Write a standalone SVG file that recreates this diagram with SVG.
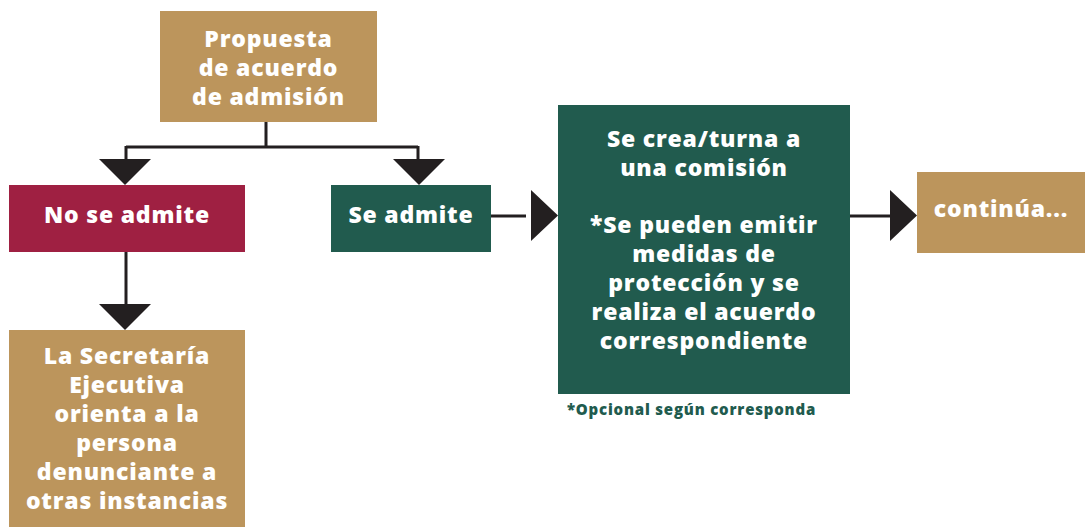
<svg xmlns="http://www.w3.org/2000/svg" width="1085" height="527" viewBox="0 0 1085 527">
<style>
.tan{fill:#BC955C}
.red{fill:#9F2042}
.grn{fill:#215B4E}
.t{font-family:"Open Sans","Liberation Sans",sans-serif;font-weight:800;font-size:23px;letter-spacing:0.8px;fill:#fff;text-anchor:middle}
.ln{stroke:#231F20;stroke-width:3;fill:none}
.ah{fill:#231F20}
.note{font-family:"Open Sans","Liberation Sans",sans-serif;font-weight:800;font-size:15px;letter-spacing:0.8px;fill:#215B4E}
</style>
<rect width="1085" height="527" fill="#fff"/>
<g id="connectors">
<path class="ln" d="M266 122V147M126 147H418M126 146V160M418 146V160"/>
<polygon class="ah" points="99,159 151,159 125,185"/>
<polygon class="ah" points="393,159 445,159 419,185"/>
<path class="ln" d="M126 252V305"/>
<polygon class="ah" points="99,304 151,304 125,330"/>
<path class="ln" d="M491 216H526"/>
<polygon class="ah" points="531,190 531,241 558,215.5"/>
<path class="ln" d="M850 216H891"/>
<polygon class="ah" points="890,190 890,241 917,215.5"/>
</g>
<g id="n-propuesta">
<rect class="tan" x="160" y="11" width="217" height="111"/>
<text class="t" x="268.5" y="47">Propuesta</text>
<text class="t" x="268.5" y="76">de acuerdo</text>
<text class="t" x="268.5" y="105">de admisión</text>
</g>
<g id="n-no">
<rect class="red" x="9" y="185" width="236" height="67"/>
<text class="t" x="127" y="223">No se admite</text>
</g>
<g id="n-si">
<rect class="grn" x="331" y="185" width="160" height="67"/>
<text class="t" x="411" y="223">Se admite</text>
</g>
<g id="n-secretaria">
<rect class="tan" x="9" y="330" width="236" height="197"/>
<text class="t" x="127" y="364">La Secretaría</text>
<text class="t" x="127" y="393">Ejecutiva</text>
<text class="t" x="127" y="422">orienta a la</text>
<text class="t" x="127" y="451">persona</text>
<text class="t" x="127" y="480">denunciante a</text>
<text class="t" x="127" y="509">otras instancias</text>
</g>
<g id="n-comision">
<rect class="grn" x="558" y="105" width="292" height="289"/>
<text class="t" x="704" y="147">Se crea/turna a</text>
<text class="t" x="704" y="176">una comisión</text>
<text class="t" x="704" y="233">*Se pueden emitir</text>
<text class="t" x="704" y="262">medidas de</text>
<text class="t" x="704" y="291">protección y se</text>
<text class="t" x="704" y="320">realiza el acuerdo</text>
<text class="t" x="704" y="349">correspondiente</text>
<text class="note" x="567" y="415">*Opcional según corresponda</text>
</g>
<g id="n-continua">
<rect class="tan" x="917" y="172" width="168" height="81"/>
<text class="t" x="1001" y="217">continúa...</text>
</g>
</svg>
